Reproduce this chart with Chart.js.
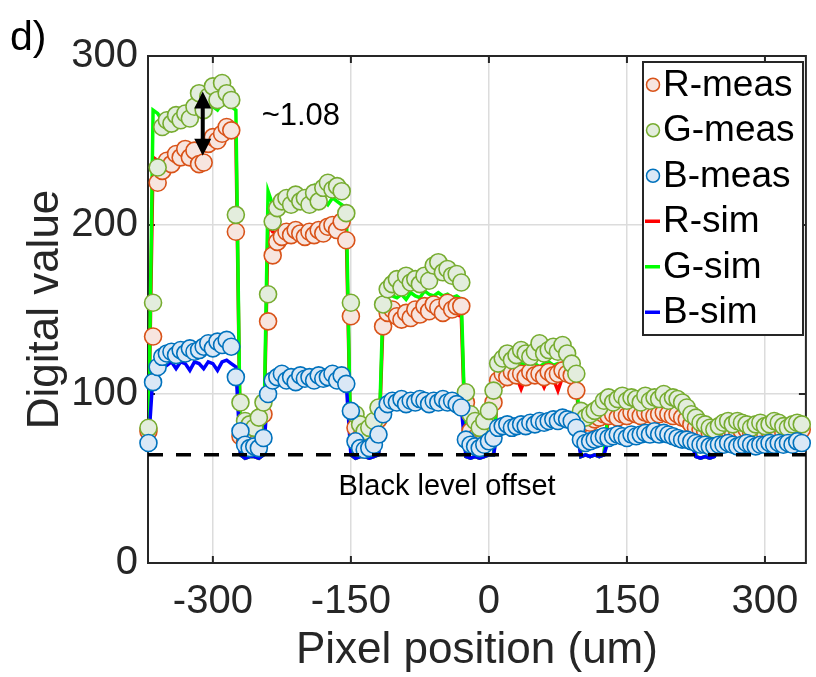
<!DOCTYPE html>
<html>
<head>
<meta charset="utf-8">
<script src="https://cdn.jsdelivr.net/npm/chart.js@4.4.1/dist/chart.umd.min.js"></script>
<style>
  html, body { margin: 0; padding: 0; background: #fff; }
  #wrap { width: 816px; height: 677px; }
</style>
</head>
<body>
<div id="wrap"><canvas id="c" width="816" height="677"></canvas></div>
<script>
// pixel positions (um)
const xs = [-370,-365,-360,-355,-350,-345,-340,-335,-330,-325,-320,-315,-310,-305,-300,-295,-290,-285,-280,-275,
  -270,-265,-260,-255,-250,-245,-240,
  -235,-230,-225,-220,-215,-210,-205,-200,-195,-190,-185,-180,-175,-170,-165,-160,-155,-150,
  -145,-140,-135,-130,-125,-120,
  -115,-110,-105,-100,-95,-90,-85,-80,-75,-70,-65,-60,-55,-50,-45,-40,-35,-30,
  -25,-20,-15,-10,-5,0,5,
  10,15,20,25,30,35,40,45,50,55,60,65,70,75,80,85,90,95,
  100,105,110,115,120,125,130,135,140,145,150,155,160,165,170,175,180,185,190,195,200,205,210,215,
  220,225,230,235,240,245,250,255,260,265,270,275,280,285,290,295,300,305,310,315,320,325,330,335,340];

// measured digital values
const rMeas = [78,134,225,232,238,236,242,240,245,240,244,236,237,248,252,250,254,258,256,196,
  75,72,74,76,73,88,143,
  182,190,193,196,194,197,195,193,196,194,197,195,199,200,197,202,191,146,
  80,74,72,75,77,85,
  140,148,150,146,144,148,145,150,147,152,149,153,151,148,154,150,152,152,
  95,78,74,72,75,80,95,
  108,112,110,113,111,112,110,113,111,112,110,113,111,112,114,112,111,102,
  82,84,83,85,86,88,87,88,86,88,87,89,88,87,89,88,87,88,89,88,87,88,86,85,
  82,80,79,78,77,78,77,78,79,78,77,78,79,77,78,78,77,78,79,78,77,78,79,78,79];
const gMeas = [80,154,234,258,262,260,265,262,266,263,270,278,268,276,282,274,284,278,274,206,
  95,84,82,80,86,95,159,
  202,210,214,216,212,218,214,216,212,219,214,222,225,221,223,220,207,154,
  88,82,78,80,84,92,
  153,162,165,168,163,170,166,168,165,170,167,176,178,172,174,170,171,166,
  101,88,84,80,84,90,102,
  118,121,124,120,123,126,124,122,125,130,124,126,128,125,129,124,118,112,
  90,86,88,90,92,96,98,95,97,99,96,98,97,95,99,96,98,97,100,96,98,97,95,92,
  88,86,83,82,80,79,81,83,84,82,84,83,82,80,82,83,81,82,84,83,81,80,82,83,82];
const bMeas = [71,107,116,122,124,125,123,126,124,127,125,126,128,130,127,131,129,132,128,110,
  78,70,68,69,68,74,100,
  108,110,112,108,110,107,111,109,110,108,111,109,110,112,108,111,106,90,
  72,68,67,68,70,76,
  88,94,96,95,97,94,96,95,97,96,94,96,95,97,95,96,94,92,
  73,70,69,68,70,72,74,
  80,81,82,80,81,82,81,83,82,84,83,84,85,84,86,85,84,80,
  73,71,72,73,74,75,74,75,76,75,74,76,75,76,77,76,78,76,77,76,75,74,73,73,
  72,71,70,70,69,69,70,70,71,70,69,70,71,70,69,70,70,71,70,71,70,71,70,72,71];

// simulated digital values
const rSim = [72,240,238,240,242,240,243,244,243,246,244,246,245,249,250,252,253,255,256,254,
  64,62,63,63,62,64,200,
  196,195,197,196,194,197,196,195,197,196,198,196,197,199,197,198,196,64,
  62,63,63,62,63,64,
  145,147,146,145,147,146,148,147,146,148,147,146,148,147,149,148,147,146,
  63,62,63,62,63,64,64,
  108,110,109,111,110,103,110,109,111,110,104,110,109,102,110,109,110,108,
  63,64,63,64,63,64,87,88,87,88,87,88,87,88,87,88,87,88,87,88,87,88,87,86,
  85,63,62,63,62,63,77,77,78,77,78,77,78,77,78,77,78,77,78,77,78,77,78,77,78];
const gSim = [72,268,266,262,264,266,262,265,264,261,266,268,264,268,270,268,272,271,270,268,
  64,62,63,63,62,64,220,
  212,210,213,211,209,212,214,213,215,222,213,215,212,216,214,212,210,64,
  62,63,63,62,63,64,
  155,160,158,157,159,156,160,158,157,161,159,158,160,158,159,157,158,156,
  63,62,63,62,63,64,64,
  116,118,117,119,116,118,117,119,118,116,118,119,117,118,116,118,117,115,
  63,64,63,64,63,64,92,93,92,94,93,92,94,93,92,93,94,92,93,94,93,92,93,92,
  90,63,62,63,62,63,79,80,79,80,79,80,79,80,79,80,79,80,79,80,79,80,79,80,79];
const bSim = [70,112,118,119,117,119,115,119,118,114,119,118,115,119,118,114,119,120,118,116,
  64,62,63,63,62,64,104,
  107,108,107,106,108,107,108,106,107,108,107,106,108,107,108,107,106,64,
  62,63,63,62,63,64,
  90,93,94,93,94,93,94,93,94,95,94,93,94,95,94,93,94,92,
  63,62,63,62,63,64,64,
  79,80,81,80,81,80,81,82,81,82,81,82,83,82,83,82,81,80,
  63,64,63,64,63,64,73,74,73,74,75,74,75,74,75,76,75,74,75,74,73,74,73,72,
  71,63,62,63,62,63,69,69,70,69,70,69,70,69,70,69,70,69,70,69,70,69,70,69,70];

const xTicks = [-300, -150, 0, 150, 300];
const yTicks = [0, 100, 200, 300];
const blackLevel = 64;
const ratioArrow = { x: -311, from: 241, to: 279 };
const ratioText = { x: -247, y: 264, text: '~1.08' };
const offsetText = { x: -45.5, y: 45, text: 'Black level offset' };

const FONT = '"Liberation Sans", Arial, Helvetica, sans-serif';
const INK = '#262626';

const pts = arr => xs.map((x, i) => ({ x: x, y: arr[i] }));

function meas(label, vals, edge, fill, order) {
  return { label, data: pts(vals), showLine: false, pointRadius: 8.5, pointBorderWidth: 1.6,
    pointBorderColor: edge, pointBackgroundColor: fill, borderColor: edge, backgroundColor: fill,
    order, clip: false, kind: 'meas' };
}
function sim(label, vals, color, order) {
  return { label, data: pts(vals), showLine: true, pointRadius: 0, borderWidth: 3.5,
    borderColor: color, backgroundColor: color, tension: 0, order, kind: 'sim' };
}

const datasets = [
  meas('R-meas', rMeas, '#D95319', '#F7E5DF', 3),
  meas('G-meas', gMeas, '#77AC30', '#E3EDDD', 2),
  meas('B-meas', bMeas, '#0072BD', '#DAE8F6', 1),
  sim('R-sim', rSim, '#FF0000', 6),
  sim('G-sim', gSim, '#00FF00', 5),
  sim('B-sim', bSim, '#0000FF', 4)
];

const frame = {
  id: 'frame',
  beforeDatasetsDraw(chart) {
    const { ctx, chartArea: a, scales: { x, y } } = chart;
    ctx.save();
    ctx.strokeStyle = INK;
    ctx.lineWidth = 2;
    ctx.strokeRect(a.left, a.top, a.right - a.left, a.bottom - a.top);
    ctx.beginPath();
    xTicks.forEach(v => {
      const px = x.getPixelForValue(v);
      ctx.moveTo(px, a.bottom); ctx.lineTo(px, a.bottom - 7);
      ctx.moveTo(px, a.top); ctx.lineTo(px, a.top + 7);
    });
    yTicks.forEach(v => {
      const py = y.getPixelForValue(v);
      ctx.moveTo(a.left, py); ctx.lineTo(a.left + 7, py);
      ctx.moveTo(a.right, py); ctx.lineTo(a.right - 7, py);
    });
    ctx.stroke();
    ctx.restore();
  },
  afterDatasetsDraw(chart) {
    const { ctx, chartArea: a, scales: { x, y } } = chart;
    ctx.save();
    // black level dashed line
    const by = y.getPixelForValue(blackLevel);
    ctx.strokeStyle = '#000';
    ctx.lineWidth = 3.5;
    ctx.setLineDash([15, 13]);
    ctx.beginPath();
    ctx.moveTo(a.left, by); ctx.lineTo(a.right, by);
    ctx.stroke();
    ctx.setLineDash([]);

    // double arrow
    const ax = x.getPixelForValue(ratioArrow.x);
    const y1 = y.getPixelForValue(ratioArrow.to);
    const y2 = y.getPixelForValue(ratioArrow.from);
    ctx.fillStyle = '#000';
    ctx.lineWidth = 4;
    ctx.beginPath();
    ctx.moveTo(ax, y1 + 12); ctx.lineTo(ax, y2 - 12);
    ctx.stroke();
    ctx.beginPath();
    ctx.moveTo(ax, y1); ctx.lineTo(ax - 8.5, y1 + 17); ctx.lineTo(ax + 8.5, y1 + 17); ctx.closePath();
    ctx.moveTo(ax, y2); ctx.lineTo(ax - 8.5, y2 - 17); ctx.lineTo(ax + 8.5, y2 - 17); ctx.closePath();
    ctx.fill();

    // texts
    ctx.fillStyle = '#000';
    ctx.textBaseline = 'middle';
    ctx.font = '31px ' + FONT;
    ctx.textAlign = 'left';
    ctx.fillText(ratioText.text, x.getPixelForValue(ratioText.x), y.getPixelForValue(ratioText.y));
    ctx.font = '29px ' + FONT;
    ctx.textAlign = 'center';
    ctx.fillText(offsetText.text, x.getPixelForValue(offsetText.x), y.getPixelForValue(offsetText.y));
    ctx.restore();
  },
  afterDraw(chart) {
    const { ctx } = chart;
    ctx.save();
    // panel label
    ctx.fillStyle = '#000';
    ctx.font = '41px ' + FONT;
    ctx.textAlign = 'left';
    ctx.textBaseline = 'middle';
    ctx.fillText('d)', 10, 39);

    // legend
    const L = 643, T = 62, R = 803, B = 335;
    ctx.fillStyle = '#fff';
    ctx.fillRect(L, T, R - L, B - T);
    ctx.strokeStyle = INK;
    ctx.lineWidth = 2;
    ctx.strokeRect(L, T, R - L, B - T);
    const step = (B - T) / 6;
    chart.data.datasets.forEach((ds, i) => {
      const cy = T + step * (i + 0.5);
      if (ds.kind === 'meas') {
        ctx.beginPath();
        ctx.arc(L + 10, cy, 6.5, 0, Math.PI * 2);
        ctx.fillStyle = ds.pointBackgroundColor;
        ctx.fill();
        ctx.lineWidth = 1.5;
        ctx.strokeStyle = ds.pointBorderColor;
        ctx.stroke();
      } else {
        ctx.beginPath();
        ctx.moveTo(L + 2, cy); ctx.lineTo(L + 17, cy);
        ctx.lineWidth = 3.5;
        ctx.strokeStyle = ds.borderColor;
        ctx.stroke();
      }
      ctx.fillStyle = '#000';
      ctx.font = '37px ' + FONT;
      ctx.textAlign = 'left';
      ctx.textBaseline = 'middle';
      ctx.fillText(ds.label, L + 20, cy + 1);
    });
    ctx.restore();
  }
};

new Chart(document.getElementById('c'), {
  type: 'scatter',
  data: { datasets: datasets },
  options: {
    responsive: false,
    animation: false,
    devicePixelRatio: 1,
    layout: { padding: { top: 56, right: 8, left: 0, bottom: 0 } },
    plugins: { legend: { display: false }, tooltip: { enabled: false } },
    scales: {
      x: {
        type: 'linear', min: -370.5, max: 344.5,
        afterBuildTicks: s => { s.ticks = xTicks.map(v => ({ value: v })); },
        afterFit: s => { s.height = 114; },
        grid: { color: '#dcdcdc', lineWidth: 1.5, drawTicks: false },
        border: { display: false },
        ticks: { font: { family: FONT, size: 40 }, color: INK, padding: 15, maxRotation: 0 },
        title: { display: true, text: 'Pixel position (um)', color: INK,
          font: { family: FONT, size: 44 }, padding: { top: 0, bottom: 0 } }
      },
      y: {
        min: 0, max: 300,
        afterBuildTicks: s => { s.ticks = yTicks.map(v => ({ value: v })); },
        afterFit: s => { s.width = 148; },
        grid: { color: '#dcdcdc', lineWidth: 1.5, drawTicks: false },
        border: { display: false },
        ticks: { font: { family: FONT, size: 40 }, color: INK, padding: 10 },
        title: { display: true, text: 'Digital value', color: INK,
          font: { family: FONT, size: 44 }, padding: { top: 19, bottom: 0 } }
      }
    }
  },
  plugins: [frame]
});
</script>
</body>
</html>
